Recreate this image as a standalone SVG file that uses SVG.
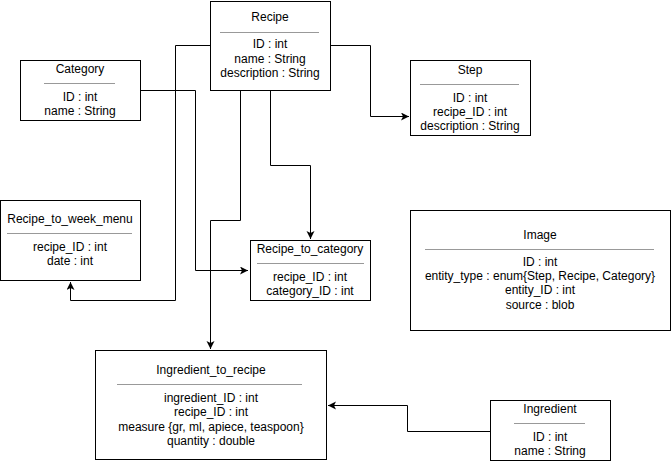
<svg xmlns="http://www.w3.org/2000/svg" width="672" height="462" viewBox="0 0 672 462">
<defs>
<marker id="arr" markerWidth="10" markerHeight="10" refX="8" refY="4" orient="auto" markerUnits="userSpaceOnUse">
<path d="M0,0 L8,4 L0,8 L2,4 Z" fill="#000"/>
</marker>
<style>
.box{fill:#fff;stroke:#000;stroke-width:1}
.sep{stroke:#999;stroke-width:1}
text{font-family:"Liberation Sans",Arial,sans-serif;font-size:12px;fill:#000;text-anchor:middle}
.edge{fill:none;stroke:#000;stroke-width:1}
</style>
</defs>
<rect width="672" height="462" fill="#fff"/>
<g id="connectors">
<path class="edge" d="M330.5,45.5 H370.5 V116.5 H409" marker-end="url(#arr)"/>
<path class="edge" d="M210.5,45.5 H175.5 V300.5 H70.5 V282" marker-end="url(#arr)"/>
<path class="edge" d="M140.5,90.5 H195.5 V270.5 H248" marker-end="url(#arr)"/>
<path class="edge" d="M240.5,90.5 V220.5 H210.5 V349" marker-end="url(#arr)"/>
<path class="edge" d="M270.5,90.5 V165.5 H310.5 V239" marker-end="url(#arr)"/>
<path class="edge" d="M491.5,431.5 H407.5 V405.5 H328" marker-end="url(#arr)"/>
</g>
<g id="recipe">
<rect class="box" x="210.5" y="1.5" width="120" height="89"/>
<text x="270" y="21">Recipe</text>
<line class="sep" x1="220" y1="32.5" x2="319" y2="32.5"/>
<text x="270" y="48">ID : int</text>
<text x="270" y="63">name : String</text>
<text x="270" y="77">description : String</text>
</g>
<g id="category">
<rect class="box" x="20.5" y="60.5" width="120" height="60"/>
<text x="80" y="73">Category</text>
<line class="sep" x1="44" y1="83.5" x2="115" y2="83.5"/>
<text x="80" y="101">ID : int</text>
<text x="80" y="115">name : String</text>
</g>
<g id="step">
<rect class="box" x="410.5" y="60.5" width="120" height="75"/>
<text x="470" y="74">Step</text>
<line class="sep" x1="420" y1="84.5" x2="519" y2="84.5"/>
<text x="470" y="102">ID : int</text>
<text x="470" y="116">recipe_ID : int</text>
<text x="470" y="130">description : String</text>
</g>
<g id="recipe_to_week_menu">
<rect class="box" x="0.5" y="200.5" width="140" height="80"/>
<text x="70" y="223">Recipe_to_week_menu</text>
<line class="sep" x1="7" y1="233.5" x2="132" y2="233.5"/>
<text x="70" y="251">recipe_ID : int</text>
<text x="70" y="265">date : int</text>
</g>
<g id="recipe_to_category">
<rect class="box" x="250.5" y="240.5" width="120" height="60"/>
<text x="310" y="253">Recipe_to_category</text>
<line class="sep" x1="257" y1="263.5" x2="364" y2="263.5"/>
<text x="310" y="281">recipe_ID : int</text>
<text x="310" y="295">category_ID : int</text>
</g>
<g id="image">
<rect class="box" x="410.5" y="210.5" width="260" height="120"/>
<text x="540" y="239">Image</text>
<line class="sep" x1="425" y1="249.5" x2="654" y2="249.5"/>
<text x="540" y="266">ID : int</text>
<text x="540" y="280">entity_type : enum{Step, Recipe, Category}</text>
<text x="540" y="294">entity_ID : int</text>
<text x="540" y="309">source : blob</text>
</g>
<g id="ingredient_to_recipe">
<rect class="box" x="95.5" y="350.5" width="231" height="109"/>
<text x="211" y="374">Ingredient_to_recipe</text>
<line class="sep" x1="117" y1="384.5" x2="302" y2="384.5"/>
<text x="211" y="402">ingredient_ID : int</text>
<text x="211" y="416">recipe_ID : int</text>
<text x="211" y="431">measure {gr, ml, apiece, teaspoon}</text>
<text x="211" y="445">quantity : double</text>
</g>
<g id="ingredient">
<rect class="box" x="490.5" y="400.5" width="120" height="60"/>
<text x="550" y="413">Ingredient</text>
<line class="sep" x1="514" y1="423.5" x2="585" y2="423.5"/>
<text x="550" y="441">ID : int</text>
<text x="550" y="455">name : String</text>
</g>
</svg>
